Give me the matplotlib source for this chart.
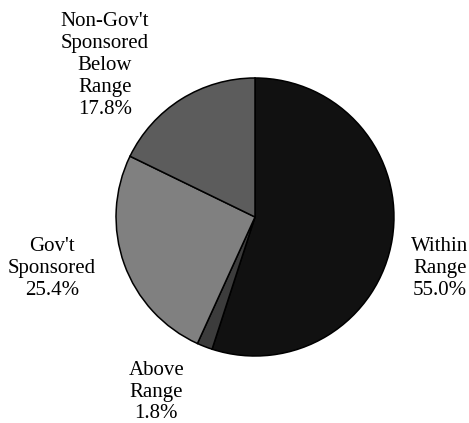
import matplotlib
matplotlib.use("Agg")
import matplotlib.pyplot as plt

plt.rcParams['font.family'] = ['Liberation Serif', 'DejaVu Serif']

# shares of the portfolio, clockwise from 12 o'clock
labels = ["Within\nRange", "Above\nRange", "Gov't\nSponsored", "Non-Gov't\nSponsored\nBelow\nRange"]
shares = [55.0, 1.8, 25.4, 17.8]
colors = ["#111111", "#3c3c3c", "#808080", "#5c5c5c"]

# where each label block sits (pie radius = 1)
label_pos = [(1.33, -0.37), (-0.71, -1.26), (-1.46, -0.37), (-1.08, 1.09)]

fig = plt.figure(figsize=(4.69, 4.23), dpi=100)
ax = fig.add_axes([0, 0, 1, 1])

ax.pie(shares, colors=colors, startangle=90, counterclock=False,
       wedgeprops=dict(edgecolor="black", linewidth=1.1))

for lab, val, (x, y) in zip(labels, shares, label_pos):
    ax.text(x, y, "%s\n%.1f%%" % (lab, val), ha="center", va="center",
            fontsize=15, linespacing=1.2)

ax.set_xlim(-1.835, 1.540)
ax.set_ylim(-1.482, 1.561)
ax.set_aspect("auto")
ax.axis("off")

fig.savefig("out.png", dpi=100)
